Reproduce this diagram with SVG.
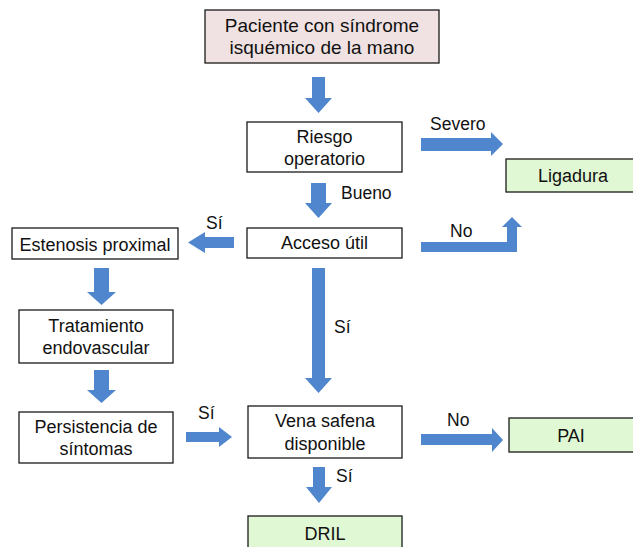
<svg xmlns="http://www.w3.org/2000/svg" width="633" height="547" viewBox="0 0 633 547">
<style>
.box{fill:#ffffff;stroke:#1a1a1a;stroke-width:1.3}
.start{fill:#f0e2e2}
.end{fill:#e0f8d4}
.t{font-family:"Liberation Sans",Arial,sans-serif;font-size:18px;fill:#111;text-anchor:middle}
.big{font-size:19px}
.lbl{font-family:"Liberation Sans",Arial,sans-serif;font-size:17.5px;fill:#111}
.arr{fill:#5086cd}
</style>
<rect width="633" height="547" fill="#ffffff"/>
<g id="connectors">
<polygon class="arr" points="312,77 325,77 325,98 332,98 318.5,113 305,98 312,98"/>
<polygon class="arr" points="311,183 326,183 326,203 332,203 318.5,218 305,203 311,203"/>
<polygon class="arr" points="421,138 491,138 491,132 503,144 491,156 491,151 421,151"/>
<polygon class="arr" points="421,242 507,242 507,227 502,227 512,217 522,227 517,227 517,252 421,252"/>
<polygon class="arr" points="234,237 205,237 205,232 188,242.5 205,253 205,248 234,248"/>
<polygon class="arr" points="312,268 325,268 325,378 332,378 318.5,393 305,378 312,378"/>
<polygon class="arr" points="94,268 109,268 109,292 116,292 101.5,305 87,292 94,292"/>
<polygon class="arr" points="94,370 109,370 109,390 116,390 101.5,403 87,390 94,390"/>
<polygon class="arr" points="186,432 219,432 219,427 232,437 219,447 219,442 186,442"/>
<polygon class="arr" points="421,434 492,434 492,428 503,440 492,452 492,445 421,445"/>
<polygon class="arr" points="313,467 325,467 325,487 332,487 319,503 306,487 313,487"/>
<text class="lbl" x="430" y="130">Severo</text>
<text class="lbl" x="341" y="199">Bueno</text>
<text class="lbl" x="450" y="237">No</text>
<text class="lbl" x="206" y="229">Sí</text>
<text class="lbl" x="334" y="333">Sí</text>
<text class="lbl" x="198" y="419">Sí</text>
<text class="lbl" x="447" y="426">No</text>
<text class="lbl" x="336" y="482">Sí</text>
</g>
<g id="n-paciente">
<rect class="box start" x="205" y="10" width="234" height="53"/>
<text class="t big" x="322" y="32">Paciente con síndrome</text>
<text class="t big" x="322" y="54">isquémico de la mano</text>
</g>
<g id="n-riesgo">
<rect class="box" x="247" y="122" width="155" height="50"/>
<text class="t" x="324.5" y="143">Riesgo</text>
<text class="t" x="324.5" y="165">operatorio</text>
</g>
<g id="n-ligadura">
<rect class="box end" x="506" y="159" width="128" height="33"/>
<text class="t" x="573" y="182">Ligadura</text>
</g>
<g id="n-acceso">
<rect class="box" x="247" y="228" width="155" height="30"/>
<text class="t" x="324.5" y="249">Acceso útil</text>
</g>
<g id="n-estenosis">
<rect class="box" x="12" y="228" width="166" height="31"/>
<text class="t" x="95" y="251">Estenosis proximal</text>
</g>
<g id="n-tratamiento">
<rect class="box" x="19" y="310" width="154" height="53"/>
<text class="t" x="96" y="332">Tratamiento</text>
<text class="t" x="96" y="354">endovascular</text>
</g>
<g id="n-persistencia">
<rect class="box" x="19" y="412" width="154" height="51"/>
<text class="t" x="96" y="433">Persistencia de</text>
<text class="t" x="96" y="455">síntomas</text>
</g>
<g id="n-vena">
<rect class="box" x="248" y="406" width="154" height="52"/>
<text class="t" x="325" y="427">Vena safena</text>
<text class="t" x="325" y="450">disponible</text>
</g>
<g id="n-pai">
<rect class="box end" x="509" y="418" width="125" height="34"/>
<text class="t" x="571" y="442">PAI</text>
</g>
<g id="n-dril">
<rect class="box end" x="248" y="516" width="154" height="33"/>
<text class="t" x="325" y="540">DRIL</text>
</g>
</svg>
